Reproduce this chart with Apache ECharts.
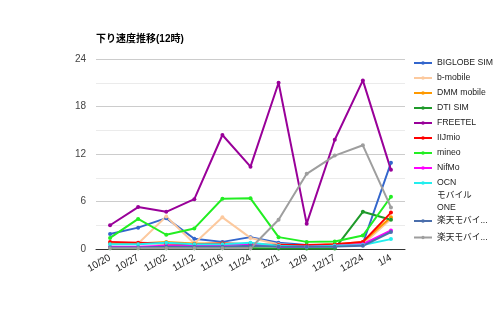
<!DOCTYPE html>
<html><head><meta charset="utf-8">
<script src="https://cdn.jsdelivr.net/npm/echarts@6/dist/echarts.min.js"></script>
<style>html,body{margin:0;padding:0;background:#fff}#c{width:500px;height:309px}</style>
</head><body><div id="c"></div>
<script>
const categories = ['10/20','10/27','11/02','11/12','11/16','11/24','12/1','12/9','12/17','12/24','1/4'];
const seriesNames = ['BIGLOBE SIM','b-mobile','DMM mobile','DTI SIM','FREETEL','IIJmio','mineo','NifMo','OCN モバイル ONE','楽天モバイル1','楽天モバイル2'];
const biglobe  = [1.9, 2.7, 3.9, 1.3, 0.9, 1.5, 0.8, 0.5, 0.5, 0.7, 10.9];
const bmobile  = [0.6, 0.7, 4.1, 0.7, 4.0, 1.4, 0.6, 0.4, 0.5, 0.6, 3.8];
const dmm      = [0.7, 0.7, 0.9, 0.7, 0.7, 0.6, 0.4, 0.4, 0.6, 0.9, 4.0];
const dti      = [0.1, 0.1, 0.1, 0.1, 0.1, 0.1, 0.05, 0.05, 0.05, 4.7, 3.7];
const freetel  = [3.0, 5.3, 4.7, 6.3, 14.4, 10.4, 21.0, 3.2, 13.8, 21.3, 10.0];
const iijmio   = [0.9, 0.8, 0.7, 0.6, 0.7, 0.6, 0.5, 0.5, 0.6, 0.9, 4.6];
const mineo    = [1.4, 3.8, 1.8, 2.6, 6.35, 6.4, 1.5, 0.9, 0.95, 1.7, 6.6];
const nifmo    = [0.3, 0.3, 0.4, 0.4, 0.5, 0.6, 0.3, 0.3, 0.4, 0.6, 2.35];
const ocn      = [0.6, 0.6, 0.8, 0.6, 0.6, 0.8, 0.4, 0.3, 0.4, 0.5, 1.25];
const rakuten1 = [0.2, 0.2, 0.3, 0.3, 0.3, 0.4, 0.3, 0.3, 0.3, 0.4, 2.15];
const rakuten2 = [0.1, 0.1, 0.1, 0.1, 0.1, 0.1, 3.7, 9.5, 11.8, 13.1, 5.25];
const yTicks = [0, 6, 12, 18, 24];

const allData = [biglobe, bmobile, dmm, dti, freetel, iijmio, mineo, nifmo, ocn, rakuten1, rakuten2];
const colors = ['#3366cc','#fcc99e','#ff9900','#1f9a2a','#990099','#ff0000','#22ee22','#ff00ff','#22eeee','#4a6eac','#9e9e9e'];
const FONT = 'Liberation Sans, Arial, Noto Sans CJK JP, sans-serif';
const LEG_ICON = 'path://M0,1 L20,1 L20,3 L0,3 Z M12,2 A2,2 0 1,1 8,2 A2,2 0 1,1 12,2 Z';

const chart = echarts.init(document.getElementById('c'), null, {renderer:'canvas'});
const legendFmt = n => n === 'OCN モバイル ONE' ? 'OCN' : (n.indexOf('楽天') === 0 ? '楽天モバイ...' : n);
const legTxt = {fontSize: 8.7, lineHeight: 14, color: '#222', fontFamily: FONT};
chart.setOption({
  animation: false,
  color: colors,
  title: {
    text: '下り速度推移(12時)', left: 96, top: 34, padding: 0,
    textStyle: {fontSize: 10, fontWeight: 'bold', color: '#000', fontFamily: FONT}
  },
  legend: [{
    orient: 'vertical', left: 414, top: 56, padding: 0,
    itemWidth: 18, itemHeight: 4, itemGap: 1, icon: LEG_ICON,
    data: seriesNames.slice(0, 9),
    formatter: legendFmt,
    textStyle: legTxt
  }, {
    orient: 'vertical', left: 414, top: 214, padding: 0,
    itemWidth: 18, itemHeight: 4, itemGap: 2.5, icon: LEG_ICON,
    data: seriesNames.slice(9),
    formatter: legendFmt,
    textStyle: legTxt
  }],
  graphic: [{
    type: 'text', left: 437, top: 189,
    style: {text: 'モバイル\nONE', fontSize: 8.7, lineHeight: 12.4, fill: '#222', fontFamily: FONT}
  }],
  grid: {left: 96, right: 95, top: 59, bottom: 60},
  xAxis: {
    type: 'category', data: categories, boundaryGap: true,
    axisLine: {lineStyle: {color: '#333', width: 1}},
    axisTick: {show: false},
    axisLabel: {rotate: 30, fontSize: 10, color: '#222', margin: 8, interval: 0, fontFamily: FONT}
  },
  yAxis: {
    type: 'value', min: 0, max: 24, interval: 3,
    axisLine: {show: false}, axisTick: {show: false},
    axisLabel: {
      fontSize: 10, color: '#444', margin: 10, fontFamily: FONT,
      formatter: v => yTicks.indexOf(v) >= 0 ? String(v) : ''
    },
    splitLine: {lineStyle: {color: ['#cccccc', '#ebebeb'], width: 1}}
  },
  series: seriesNames.map((n, i) => ({
    name: n, type: 'line', data: allData[i],
    symbol: 'circle', symbolSize: 4, showSymbol: true,
    lineStyle: {width: 2}, itemStyle: {color: colors[i]}
  }))
});
</script></body></html>
